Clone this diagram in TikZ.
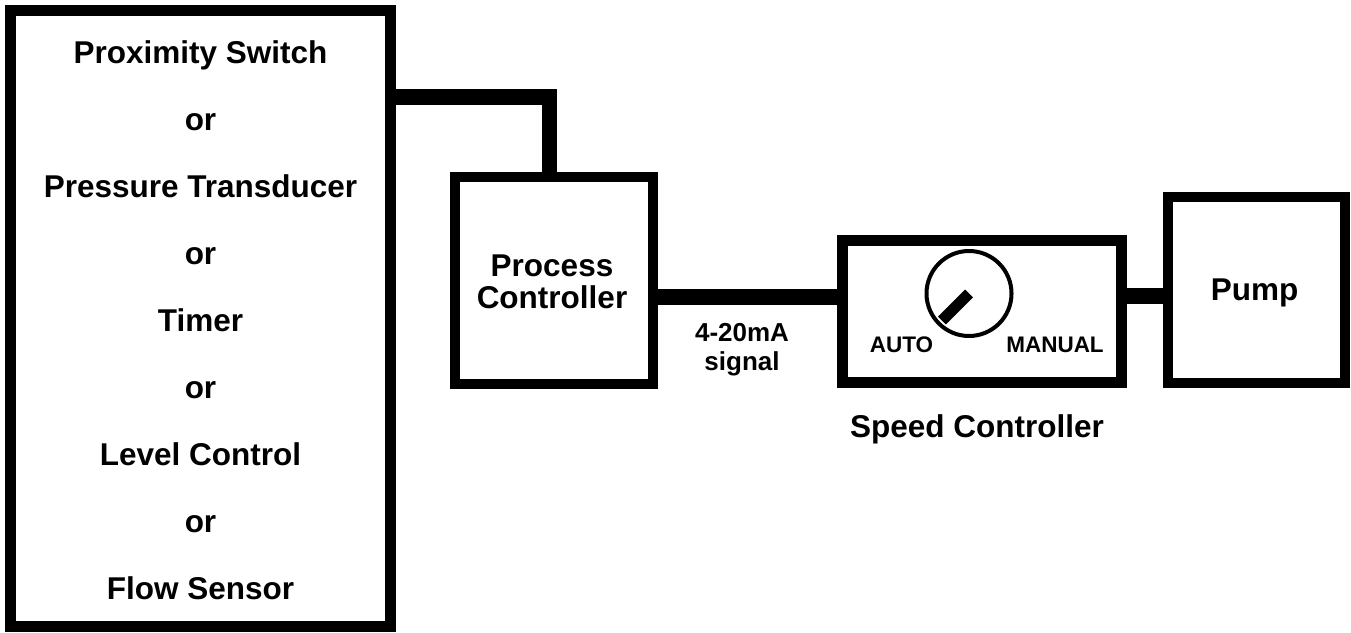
\documentclass[tikz,border=0pt]{standalone}
\usepackage{fontspec}
\setmainfont{Liberation Sans}
\usetikzlibrary{calc}
\begin{document}
\begin{tikzpicture}[x=1pt,y=-1pt,
  box/.style={draw, line width=#1, inner sep=0pt, outer sep=0pt, fill=white},
  wire/.style={line width=15.5pt, line cap=butt, line join=miter},
  mainlbl/.style={font=\fontsize{31.5}{36}\selectfont\bfseries, anchor=base, inner sep=0pt},
  siglbl/.style={font=\fontsize{26}{30}\selectfont\bfseries, anchor=base, inner sep=0pt},
  diallbl/.style={font=\fontsize{22.5}{26}\selectfont\bfseries, anchor=base, inner sep=0pt}]
\useasboundingbox (0,0) rectangle (1351,632);

% wires first (under boxes)
\node[box=11pt, minimum width=380pt, minimum height=616pt] (src) at (200.5,318.5) {};
\node[box=10pt, minimum width=198pt, minimum height=207pt] (proc) at (554,280.5) {};
\node[box=11pt, minimum width=279pt, minimum height=142pt] (speed) at (982,311.5) {};
\node[box=10pt, minimum width=177pt, minimum height=186pt] (pump) at (1256.5,290) {};

\draw[wire] (src.east |- 0,97) -| ([xshift=-4.5pt]proc.north);
\draw[wire] (proc.east |- 0,297) -- (speed.west |- 0,297);
\draw[wire] (speed.east |- 0,296) -- ([xshift=5pt]pump.west |- 0,296);

% left box texts
\foreach \t [count=\i from 0] in {Proximity Switch, or, Pressure Transducer, or, Timer, or, Level Control, or, Flow Sensor}
  \node[mainlbl] (src\i) at (200.5,{63+67*\i}) {\t};

% process controller
\node[mainlbl] (proct1) at (552,276) {Process};
\node[mainlbl] (proct2) at (552,308) {Controller};

% signal label
\node[siglbl] (sig1) at (742,341) {4-20mA};
\node[siglbl] (sig2) at (742,370) {signal};

% speed controller dial
\node[circle, draw, line width=4pt, minimum size=85pt, inner sep=0pt, outer sep=0pt] (dial) at (969,293.5) {};
\draw[line width=11pt, line cap=butt] (dial.center) -- ($(dial.center)!0.9!(dial.225)$);
\node[diallbl] (auto) at (901.5,352) {AUTO};
\node[diallbl] (manual) at (1055,352) {MANUAL};
\node[mainlbl] (speedlbl) at (977,437) {Speed Controller};

% pump
\node[mainlbl] (pumplbl) at (1254.5,300) {Pump};
\end{tikzpicture}
\end{document}
